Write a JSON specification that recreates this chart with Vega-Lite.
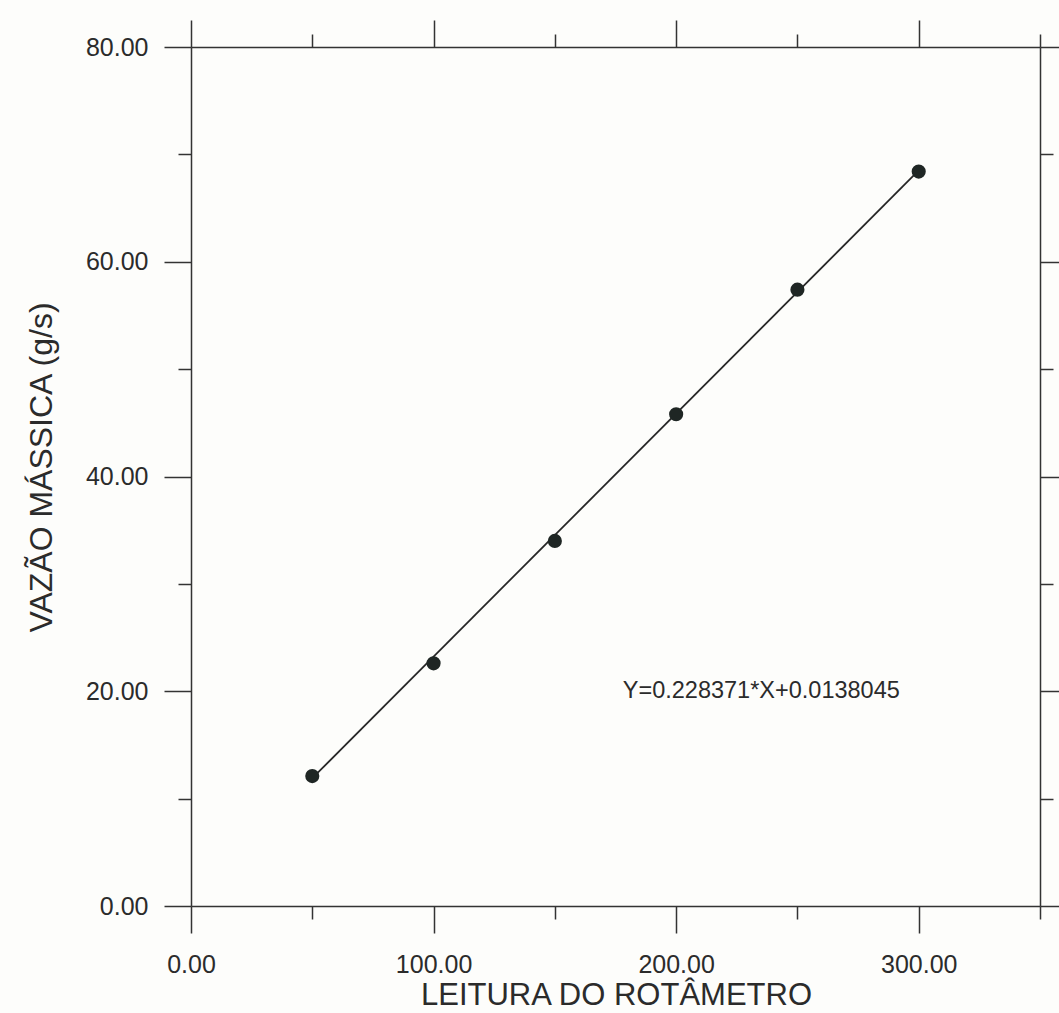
{
  "$schema": "https://vega.github.io/schema/vega-lite/v6.json",
  "width": 849,
  "height": 859,
  "autosize": {"type": "none"},
  "padding": {"left": 191, "top": 47, "right": 19, "bottom": 107},
  "background": "#fdfdfb",
  "config": {
    "view": {"stroke": null},
    "axis": {
      "grid": false,
      "domainColor": "#333333",
      "domainWidth": 1.5,
      "tickColor": "#333333",
      "tickWidth": 1.5,
      "labelFont": "Liberation Sans",
      "labelColor": "#2b2b2b",
      "titleFont": "Liberation Sans",
      "titleColor": "#2b2b2b",
      "titleFontWeight": "normal"
    }
  },
  "datasets": {
    "pts": [
      {"leitura": 50, "vazao": 12.1},
      {"leitura": 100, "vazao": 22.6},
      {"leitura": 150, "vazao": 34.0},
      {"leitura": 200, "vazao": 45.8},
      {"leitura": 250, "vazao": 57.4},
      {"leitura": 300, "vazao": 68.4}
    ],
    "fit": [
      {"leitura": 50, "vazao": 11.9},
      {"leitura": 300, "vazao": 68.5}
    ],
    "eq": [
      {"leitura": 178, "vazao": 20.0, "label": "Y=0.228371*X+0.0138045"}
    ]
  },
  "resolve": {"axis": {"x": "independent", "y": "independent"}},
  "layer": [
    {
      "data": {"name": "fit"},
      "mark": {"type": "line", "color": "#262626", "strokeWidth": 1.8},
      "encoding": {
        "x": {
          "field": "leitura", "type": "quantitative",
          "scale": {"domain": [0, 350], "nice": false, "zero": false},
          "axis": {
            "orient": "bottom",
            "values": [0, 50, 100, 150, 200, 250, 300, 350],
            "tickSize": {"condition": {"test": "datum.value % 100 === 0", "value": 27}, "value": 13},
            "labelExpr": "datum.value % 100 === 0 ? format(datum.value, '.2f') : ''",
            "labelFontSize": 25,
            "labelPadding": 19,
            "labelFlush": false,
            "labelOverlap": false,
            "title": "LEITURA DO ROTÂMETRO",
            "titleFontSize": 31,
            "titleX": 425,
            "titleY": 98,
            "titleBaseline": "alphabetic",
            "titleAlign": "center"
          }
        },
        "y": {
          "field": "vazao", "type": "quantitative",
          "scale": {"domain": [0, 80], "nice": false, "zero": false},
          "axis": {
            "orient": "left",
            "values": [0, 10, 20, 30, 40, 50, 60, 70, 80],
            "tickSize": {"condition": {"test": "datum.value % 20 === 0", "value": 27}, "value": 13},
            "labelExpr": "datum.value % 20 === 0 ? format(datum.value, '.2f') : ''",
            "labelFontSize": 25,
            "labelPadding": 16,
            "labelFlush": false,
            "labelOverlap": false,
            "title": "VAZÃO MÁSSICA (g/s)",
            "titleFontSize": 32,
            "titleAngle": -90,
            "titleX": -150,
            "titleY": 420,
            "titleBaseline": "middle",
            "titleAlign": "center"
          }
        }
      }
    },
    {
      "data": {"name": "pts"},
      "mark": {"type": "circle", "size": 200, "color": "#1f2624", "opacity": 1},
      "encoding": {
        "x": {
          "field": "leitura", "type": "quantitative",
          "scale": {"domain": [0, 350], "nice": false, "zero": false},
          "axis": {
            "orient": "top",
            "values": [0, 50, 100, 150, 200, 250, 300, 350],
            "tickSize": {"condition": {"test": "datum.value % 100 === 0", "value": 27}, "value": 13},
            "labels": false,
            "title": null
          }
        },
        "y": {
          "field": "vazao", "type": "quantitative",
          "scale": {"domain": [0, 80], "nice": false, "zero": false},
          "axis": {
            "orient": "right",
            "values": [0, 10, 20, 30, 40, 50, 60, 70, 80],
            "tickSize": {"condition": {"test": "datum.value % 20 === 0", "value": 27}, "value": 13},
            "labels": false,
            "title": null
          }
        }
      }
    },
    {
      "data": {"name": "eq"},
      "mark": {"type": "text", "align": "left", "baseline": "middle", "fontSize": 23.5, "font": "Liberation Sans", "color": "#2b2b2b"},
      "encoding": {
        "x": {"field": "leitura", "type": "quantitative", "scale": {"domain": [0, 350], "nice": false, "zero": false}, "axis": null},
        "y": {"field": "vazao", "type": "quantitative", "scale": {"domain": [0, 80], "nice": false, "zero": false}, "axis": null},
        "text": {"field": "label"}
      }
    }
  ]
}
